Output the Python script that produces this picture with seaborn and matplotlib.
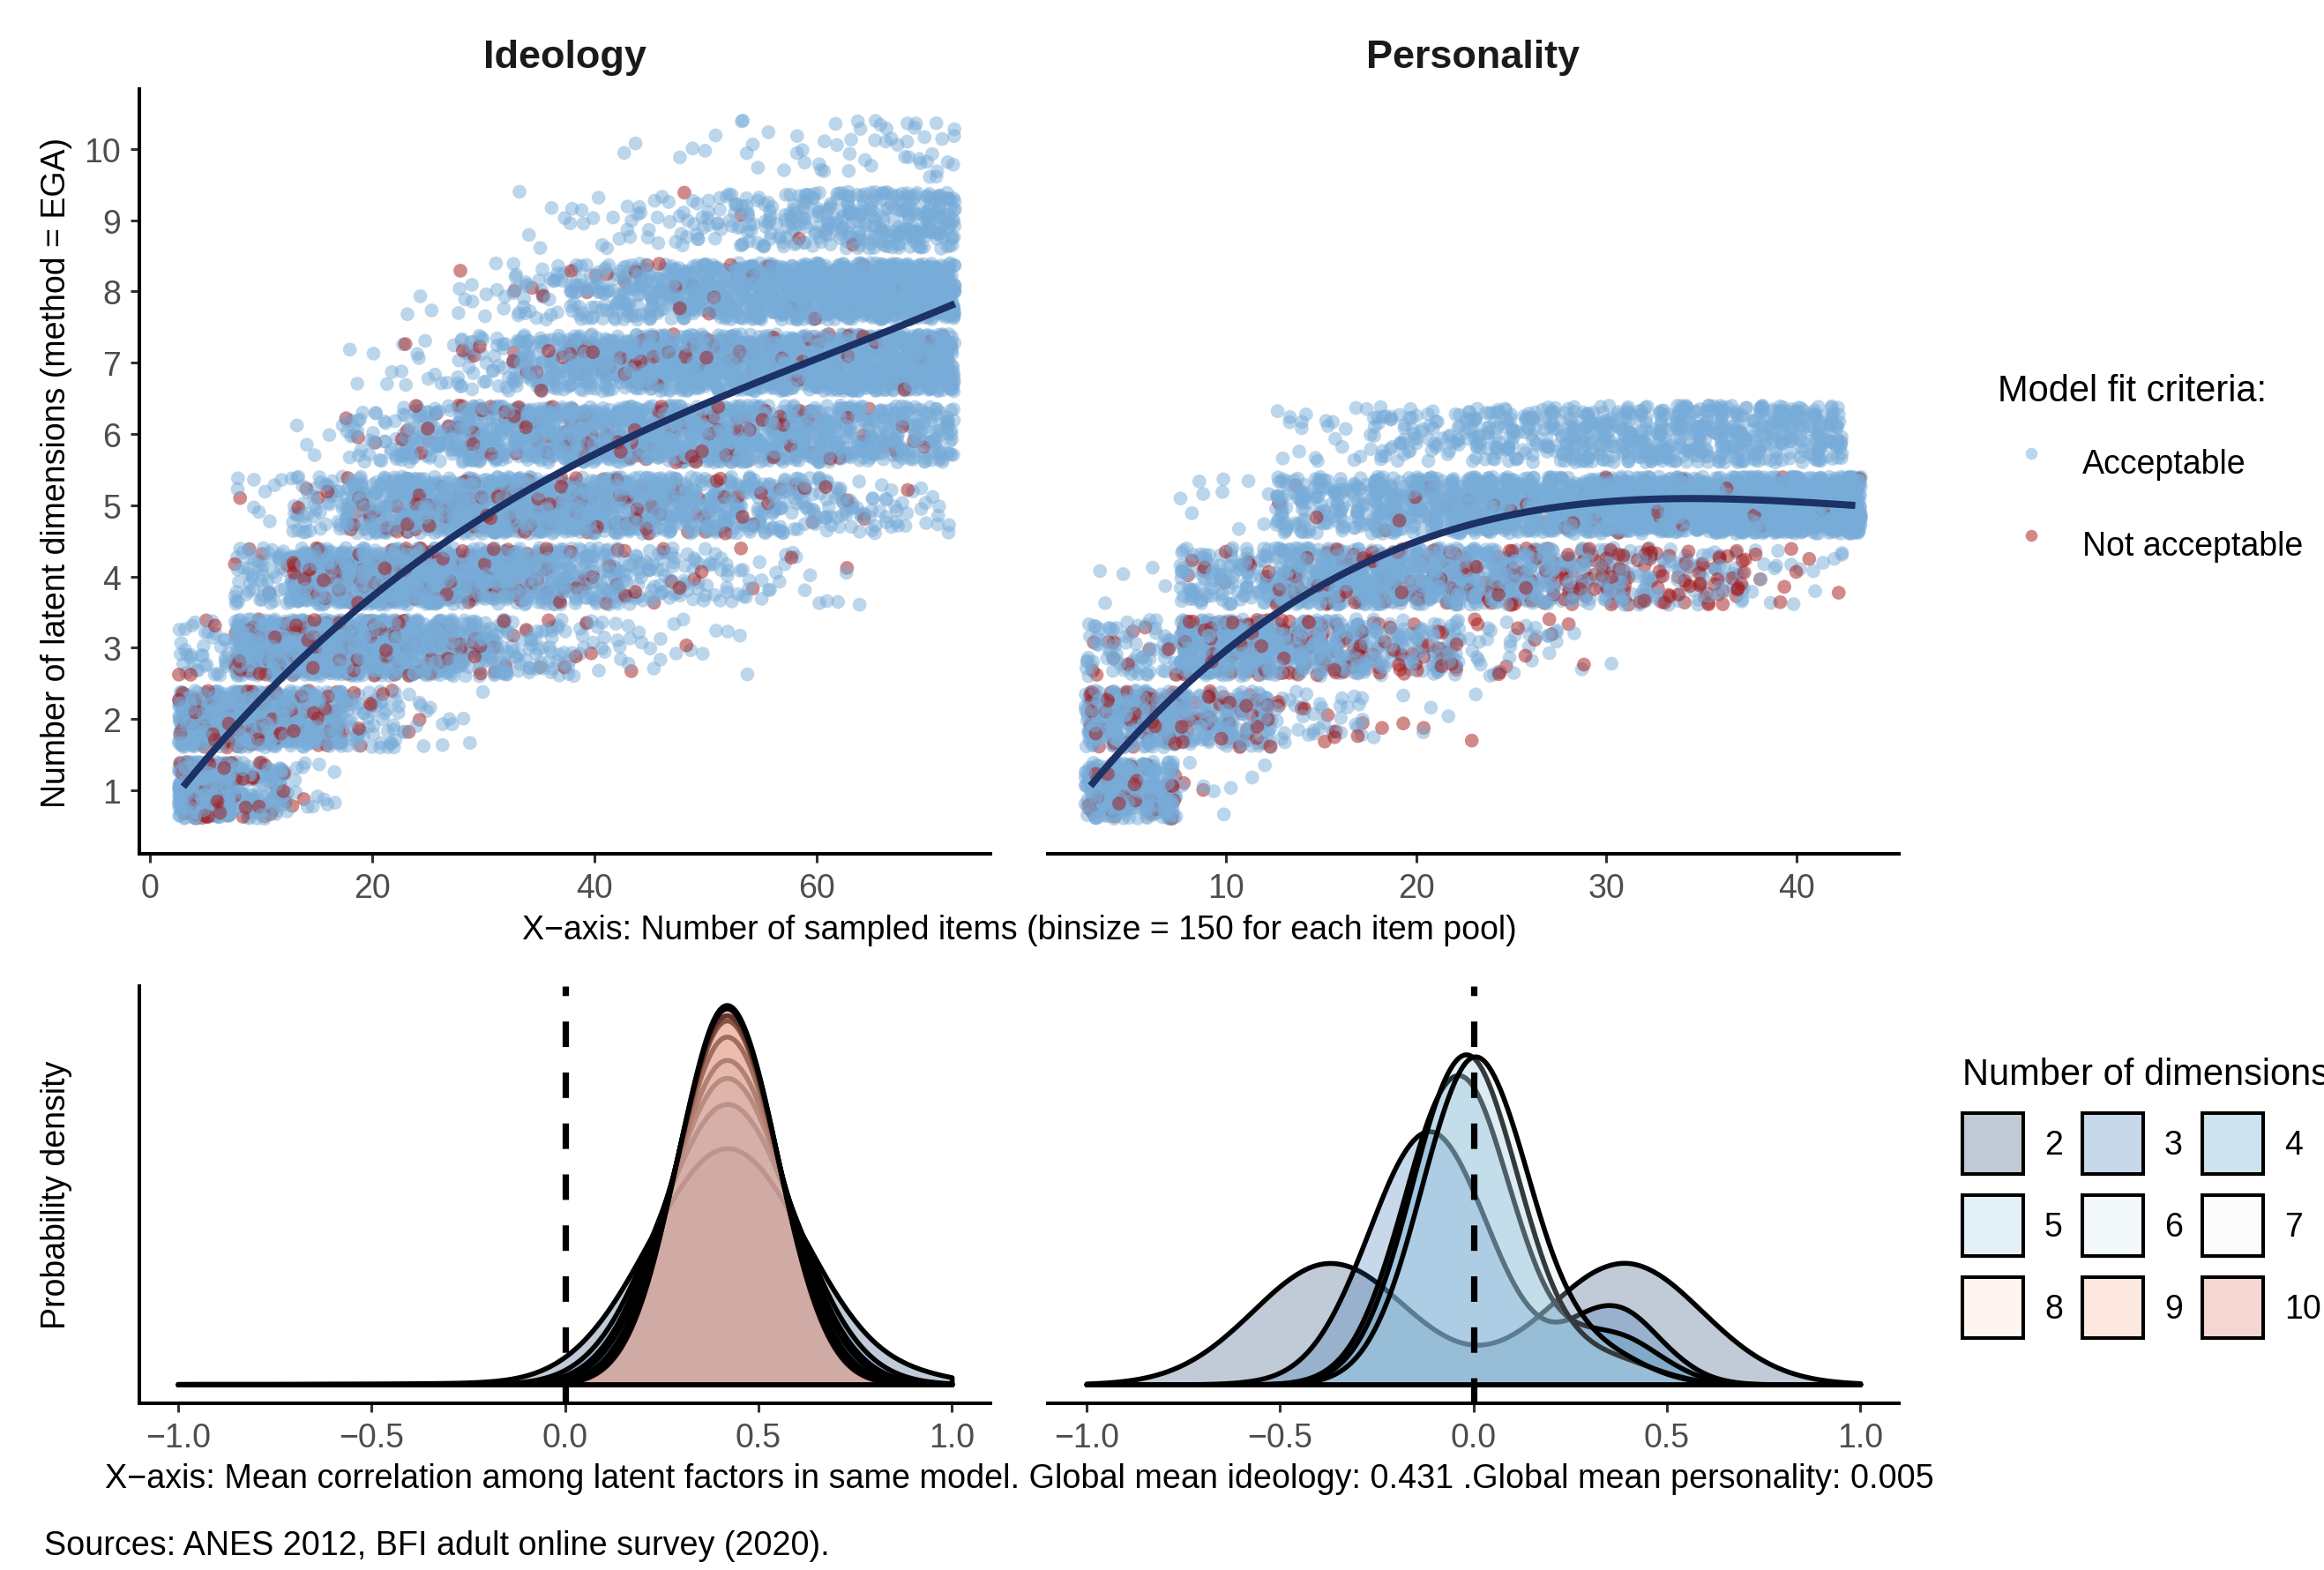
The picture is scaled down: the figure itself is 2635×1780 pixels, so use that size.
import numpy as np
import pandas as pd
import matplotlib
matplotlib.use("Agg")
import matplotlib.pyplot as plt
from matplotlib.colors import to_rgba
from matplotlib.lines import Line2D
from matplotlib.patches import Patch
import seaborn as sns

# ---------------------------------------------------------------------------
# Scatter data: number of models (150 per item count) per number of dimensions,
# counted in bins of sampled items. *_bad = models with a not acceptable fit.
# ---------------------------------------------------------------------------
ideo_bin_lo = [3, 8, 13, 18, 23, 28, 33, 38, 43, 48, 53, 58, 63, 68]
ideo_bin_hi = [7, 12, 17, 22, 27, 32, 37, 42, 47, 52, 57, 62, 67, 72]
ideo_dims = [1, 2, 3, 4, 5, 6, 7, 8, 9, 10]
ideo_counts = [
    [460, 120, 15, 0, 0, 0, 0, 0, 0, 0, 0, 0, 0, 0],
    [250, 290, 170, 60, 15, 3, 0, 0, 0, 0, 0, 0, 0, 0],
    [40, 270, 320, 270, 190, 110, 50, 25, 12, 6, 2, 0, 0, 0],
    [0, 60, 190, 250, 250, 215, 160, 100, 60, 35, 18, 8, 3, 0],
    [0, 10, 50, 130, 190, 220, 210, 190, 160, 125, 90, 60, 35, 15],
    [0, 0, 5, 35, 90, 150, 190, 200, 200, 190, 170, 150, 120, 95],
    [0, 0, 0, 5, 12, 40, 100, 160, 190, 210, 225, 230, 230, 225],
    [0, 0, 0, 0, 3, 12, 35, 65, 110, 150, 190, 220, 250, 275],
    [0, 0, 0, 0, 0, 0, 5, 10, 16, 30, 48, 72, 98, 120],
    [0, 0, 0, 0, 0, 0, 0, 0, 2, 4, 7, 10, 14, 20],
]
ideo_bad = [
    [65, 18, 2, 0, 0, 0, 0, 0, 0, 0, 0, 0, 0, 0],
    [35, 40, 22, 8, 2, 0, 0, 0, 0, 0, 0, 0, 0, 0],
    [4, 30, 35, 30, 20, 12, 5, 3, 1, 1, 0, 0, 0, 0],
    [0, 5, 20, 28, 27, 22, 16, 10, 6, 3, 2, 1, 1, 0],
    [0, 1, 4, 12, 18, 22, 20, 17, 13, 10, 7, 4, 2, 1],
    [0, 0, 0, 3, 8, 14, 17, 17, 16, 14, 11, 8, 5, 3],
    [0, 0, 0, 0, 1, 3, 8, 12, 13, 12, 10, 8, 6, 4],
    [0, 0, 0, 0, 0, 1, 3, 4, 5, 5, 4, 3, 2, 2],
    [0, 0, 0, 0, 0, 0, 0, 0, 0, 1, 1, 1, 1, 0],
    [0, 0, 0, 0, 0, 0, 0, 0, 0, 0, 0, 0, 0, 0],
]

pers_bin_lo = [3, 8, 13, 18, 23, 28, 33, 38, 43]
pers_bin_hi = [7, 12, 17, 22, 27, 32, 37, 42, 43]
pers_dims = [1, 2, 3, 4, 5, 6]
pers_counts = [
    [320, 10, 0, 0, 0, 0, 0, 0, 0],
    [340, 200, 45, 8, 2, 0, 0, 0, 0],
    [85, 400, 260, 130, 40, 5, 0, 0, 0],
    [5, 130, 285, 290, 250, 170, 100, 25, 0],
    [0, 10, 140, 255, 340, 400, 450, 545, 150],
    [0, 0, 20, 67, 118, 175, 200, 180, 0],
]
pers_bad = [
    [35, 2, 0, 0, 0, 0, 0, 0, 0],
    [55, 40, 10, 3, 1, 0, 0, 0, 0],
    [12, 60, 50, 30, 10, 2, 0, 0, 0],
    [0, 10, 25, 35, 45, 65, 45, 8, 0],
    [0, 0, 3, 5, 6, 7, 7, 6, 1],
    [0, 0, 0, 0, 0, 0, 0, 0, 0],
]

# points
ideo_fit_x = [3.2, 8.2, 11.1, 18.4, 29.7, 37.9, 50.1, 72.1]
ideo_fit_y = [1.03, 2.02, 2.52, 3.53, 4.70, 5.57, 6.47, 7.80]
pers_fit_x = [3.0, 7.7, 12.95, 20.5, 28.4, 34.4, 42.9]
pers_fit_y = [1.06, 2.50, 3.53, 4.50, 4.97, 5.16, 4.98]

# ---------------------------------------------------------------------------
# Density data: mean factor correlation, binned (share per 1000 models)
# ---------------------------------------------------------------------------
corr_grid = [-1.0, -0.9, -0.8, -0.7, -0.6, -0.5, -0.4, -0.3, -0.2, -0.1, 0.0,
             0.1, 0.2, 0.3, 0.4, 0.5, 0.6, 0.7, 0.8, 0.9, 1.0]
ideo_corr = {
    2: [2, 2, 2, 2, 3, 3, 4, 5, 8, 24, 87, 243, 510, 819, 994, 915, 639, 338, 140, 60, 25],
    3: [0, 0, 0, 0, 0, 0, 0, 0, 1, 4, 29, 128, 380, 749, 992, 880, 522, 208, 55, 10, 1],
    4: [0, 0, 0, 0, 0, 0, 0, 0, 0, 1, 12, 78, 301, 699, 990, 853, 446, 143, 28, 3, 0],
    5: [0, 0, 0, 0, 0, 0, 0, 0, 0, 0, 6, 53, 249, 662, 989, 832, 394, 106, 16, 1, 0],
    6: [0, 0, 0, 0, 0, 0, 0, 0, 0, 0, 2, 29, 188, 609, 986, 802, 329, 68, 7, 0, 0],
    7: [0, 0, 0, 0, 0, 0, 0, 0, 0, 0, 1, 18, 152, 571, 984, 779, 283, 47, 4, 0, 0],
    8: [0, 0, 0, 0, 0, 0, 0, 0, 0, 0, 1, 16, 141, 558, 985, 771, 269, 42, 3, 0, 0],
    9: [0, 0, 0, 0, 0, 0, 0, 0, 0, 0, 0, 11, 120, 533, 983, 756, 243, 33, 2, 0, 0],
    10: [0, 0, 0, 0, 0, 0, 0, 0, 0, 0, 1, 12, 125, 540, 980, 760, 250, 36, 3, 0, 0],
}
pers_corr = {
    2: [3, 18, 71, 212, 469, 785, 987, 933, 669, 386, 254, 343, 607, 893, 999, 841, 533, 252, 90, 24, 5],
    3: [0, 0, 0, 0, 1, 5, 28, 95, 193, 232, 165, 72, 37, 67, 72, 28, 4, 0, 0, 0, 0],
    4: [0, 0, 0, 0, 0, 0, 3, 27, 119, 260, 279, 148, 51, 46, 45, 18, 2, 0, 0, 0, 0],
    5: [0, 0, 0, 0, 0, 0, 2, 20, 101, 252, 311, 189, 65, 30, 22, 8, 1, 0, 0, 0, 0],
    6: [0, 0, 0, 0, 0, 0, 1, 12, 71, 211, 312, 227, 93, 41, 23, 6, 1, 0, 0, 0, 0],
}

dim_colors = {2: "#053061", 3: "#2166ac", 4: "#4393c3", 5: "#92c5de", 6: "#d1e5f0",
              7: "#f7f7f7", 8: "#fddbc7", 9: "#f4a582", 10: "#d6604d"}
fit_colors = {"Acceptable": "#78acd8", "Not acceptable": "#a51616"}
trend_color = "#1c3166"
kde_bw = 0.07

plt.rcParams["font.family"] = ["Liberation Sans", "DejaVu Sans"]
plt.rcParams["axes.unicode_minus"] = True

W, H = 2635, 1781


def models_table(lo, hi, counts, bad, dims, seed):
    parts = []
    for d, crow, brow in zip(dims, counts, bad):
        for a, b, n, r in zip(lo, hi, crow, brow):
            cols = np.arange(a, b + 1)
            for label, k in (("Acceptable", n - r), ("Not acceptable", r)):
                if k > 0:
                    parts.append(pd.DataFrame({"items": np.resize(cols, k), "dims": d, "fit": label}))
    df = pd.concat(parts, ignore_index=True)
    # geom_jitter style display jitter
    rng = np.random.default_rng(seed)
    df["x"] = df["items"] + rng.uniform(-0.4, 0.4, len(df))
    df["y"] = df["dims"] + rng.uniform(-0.4, 0.4, len(df))
    return df.sample(frac=1, random_state=seed).reset_index(drop=True)


def style(ax, left_axis=True, yticks=True):
    ax.set_facecolor("white")
    for side in ["top", "right"]:
        ax.spines[side].set_visible(False)
    ax.spines["left"].set_visible(left_axis)
    for side in ["left", "bottom"]:
        ax.spines[side].set_linewidth(1.45)
        ax.spines[side].set_color("black")
    ax.tick_params(axis="both", length=3.5, width=1.1, color="#333333",
                   labelsize=13.5, labelcolor="#4d4d4d", pad=4)
    if not yticks:
        ax.tick_params(axis="y", left=False, labelleft=False)
    ax.set_xlabel("")
    ax.set_ylabel("")


def draw_densities(ax, table):
    for d, w in table.items():
        w = np.asarray(w, dtype=float)
        factor = kde_bw / np.sqrt(np.cov(corr_grid, aweights=w))
        sns.kdeplot(x=corr_grid, weights=w, bw_method=factor, cut=20, clip=(-1, 1),
                    gridsize=400, fill=True, color=dim_colors[d], alpha=0.25,
                    edgecolor="black", linewidth=2.0, ax=ax)
    ax.axvline(0, color="black", linewidth=2.6, linestyle=(0, (4, 4)), zorder=5)


fig = plt.figure(figsize=(W / 200, H / 200), dpi=200)
fig.patch.set_facecolor("white")
ax_ideo = fig.add_axes([158 / W, 1 - 969 / H, 965 / W, 867 / H])
ax_pers = fig.add_axes([1188 / W, 1 - 969 / H, 965 / W, 867 / H])
ax_di = fig.add_axes([158 / W, 1 - 1592 / H, 965 / W, 473 / H])
ax_dp = fig.add_axes([1188 / W, 1 - 1592 / H, 965 / W, 473 / H])

# top row: jittered models and trend
ideo_df = models_table(ideo_bin_lo, ideo_bin_hi, ideo_counts, ideo_bad, ideo_dims, 11)
pers_df = models_table(pers_bin_lo, pers_bin_hi, pers_counts, pers_bad, pers_dims, 23)

for ax, df, fx, fy in ((ax_ideo, ideo_df, ideo_fit_x, ideo_fit_y),
                       (ax_pers, pers_df, pers_fit_x, pers_fit_y)):
    sns.scatterplot(data=df, x="x", y="y", hue="fit", palette=fit_colors, s=32,
                    alpha=0.5, linewidth=0, legend=False, ax=ax, zorder=1)
    sns.regplot(x=fx, y=fy, order=3, scatter=False, ci=None, truncate=True, ax=ax,
                line_kws=dict(color=trend_color, linewidth=2.9, zorder=3))
    ax.set_ylim(0.108, 10.84)
    ax.set_yticks(range(1, 11))

ax_ideo.set_xlim(-0.95, 75.6)
ax_ideo.set_xticks([0, 20, 40, 60])
ax_pers.set_xlim(0.635, 45.38)
ax_pers.set_xticks([10, 20, 30, 40])
style(ax_ideo)
style(ax_pers, left_axis=False, yticks=False)

# bottom row: densities
draw_densities(ax_di, ideo_corr)
draw_densities(ax_dp, pers_corr)
peak = max(p.vertices[:, 1].max() for ax in (ax_di, ax_dp)
           for c in ax.collections for p in c.get_paths())
for ax in (ax_di, ax_dp):
    ax.set_xlim(-1.1, 1.1)
    ax.set_ylim(-0.05 * peak, 1.05 * peak)
    ax.set_xticks([-1.0, -0.5, 0.0, 0.5, 1.0])
    ax.set_xticklabels(["\u22121.0", "\u22120.5", "0.0", "0.5", "1.0"])
style(ax_di, left_axis=True, yticks=False)
style(ax_dp, left_axis=False, yticks=False)

# titles and labels
fig.text(640.5 / W, 1 - 77 / H, "Ideology", ha="center", va="baseline",
         fontsize=16.2, fontweight="bold", color="#1a1a1a")
fig.text(1670.5 / W, 1 - 77 / H, "Personality", ha="center", va="baseline",
         fontsize=16.2, fontweight="bold", color="#1a1a1a")
fig.text(1156 / W, 1 - 1065 / H,
         "X\u2212axis: Number of sampled items (binsize = 150 for each item pool)",
         ha="center", va="baseline", fontsize=13.5)
fig.text(64 / W, 1 - 536 / H, "Number of latent dimensions (method = EGA)",
         rotation=90, ha="center", va="center", fontsize=13.5)
fig.text(64 / W, 1 - 1355 / H, "Probability density",
         rotation=90, ha="center", va="center", fontsize=13.5)
fig.text(1156 / W, 1 - 1687 / H,
         "X\u2212axis: Mean correlation among latent factors in same model. "
         "Global mean ideology: 0.431 .Global mean personality: 0.005",
         ha="center", va="baseline", fontsize=13.6)
fig.text(50 / W, 1 - 1763 / H, "Sources: ANES 2012, BFI adult online survey (2020).",
         ha="left", va="baseline", fontsize=13.6)

# legends
pt_handles = [Line2D([], [], linestyle="", marker="o", markersize=4.9,
                     markerfacecolor=fit_colors[k], markeredgewidth=0, alpha=0.5)
              for k in ["Acceptable", "Not acceptable"]]
fig.legend(pt_handles, ["Acceptable", "Not acceptable"], title="Model fit criteria:",
           loc="upper left", bbox_to_anchor=(2265 / W, 1 - 424 / H), frameon=False,
           fontsize=13.5, title_fontsize=15, alignment="left", borderpad=0,
           borderaxespad=0, handlelength=2.0, handleheight=2.24, handletextpad=0.57,
           labelspacing=0.78)

order = [2, 5, 8, 3, 6, 9, 4, 7, 10]
sq_handles = [Patch(facecolor=to_rgba(dim_colors[d], 0.25), edgecolor="black", linewidth=1.45)
              for d in order]
fig.legend(sq_handles, [str(d) for d in order], ncol=3, title="Number of dimensions",
           loc="upper left", bbox_to_anchor=(2225 / W, 1 - 1199 / H), frameon=False,
           fontsize=13.5, title_fontsize=15, alignment="left", borderpad=0,
           borderaxespad=0, handlelength=1.84, handleheight=2.454, handletextpad=0.64,
           labelspacing=0.64, columnspacing=0.59)

fig.savefig("out.png", dpi=200, facecolor="white")
